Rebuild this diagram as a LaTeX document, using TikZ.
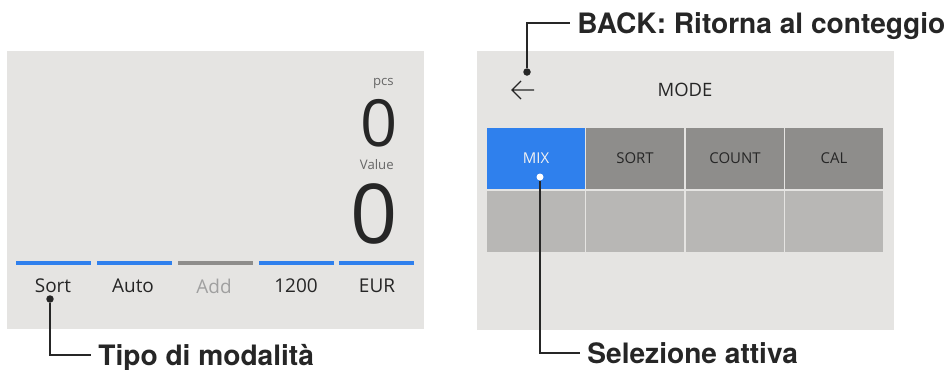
\documentclass[tikz,border=0pt]{standalone}
\usepackage{fontspec}
\setmainfont{Open Sans}
\newfontfamily\callfont{TeX Gyre Heros}
\usetikzlibrary{positioning}
\definecolor{screenbg}{HTML}{E5E4E2}
\definecolor{selblue}{HTML}{2F80ED}
\definecolor{keydark}{HTML}{8E8D8B}
\definecolor{keylight}{HTML}{B8B7B5}
\definecolor{inktext}{HTML}{262626}
\definecolor{dimtext}{HTML}{A0A0A0}
\tikzset{
    screen/.style={
    fill=screenbg,draw=none
    },
    bigzero/.style={
    anchor=east,inner sep=0pt,text=inktext
    },
    unit/.style={
    anchor=east,inner sep=0pt,text=inktext!70,font=\fontsize{7.5}{9}\selectfont
    },
    tab/.style={
    inner sep=0pt,text=inktext,font=\fontsize{10.8}{13}\selectfont
    },
    tabbar/.style={
    line width=2.3pt
    },
    key/.style={
    rectangle,fill=keydark,minimum width=1.96cm,minimum height=1.22cm,inner sep=0pt,
    text=inktext,font=\fontsize{8.5}{10}\selectfont
    },
    pin/.style={
    circle,fill=inktext,inner sep=0pt,minimum size=0.15cm
    },
    wpin/.style={
    circle,fill=white,inner sep=0pt,minimum size=0.14cm
    },
    callout/.style={
    anchor=west,inner xsep=4pt,inner ysep=0pt,text height=11.5pt,text depth=0pt,
    font=\callfont\bfseries\fontsize{16}{18}\selectfont,text=inktext
    },
    leader/.style={
    line width=1.1pt,draw=inktext
    },
}

\begin{document}
\begin{tikzpicture}[x=0.02cm, y=-0.02cm]
   \useasboundingbox (0,0) rectangle (950,369);

   %screens
   \fill[screen] (7,51) rectangle (424,329);
   \fill[screen] (477,51) rectangle (894,330);

   %counter
   \node[unit] (pcs) at (394,83) {pcs};
   \node[bigzero,font=\fontsize{37}{40}\selectfont] (zpcs) at (398,123.5) {0};
   \node[unit] (val) at (394,165) {Value};
   \node[bigzero,font=\fontsize{47}{50}\selectfont] (zval) at (398,213.5) {0};

   %tabs
   \foreach \xa/\xb/\col in {16/91/selblue,97/172/selblue,178/253/keydark,259/334/selblue,339/414/selblue}
     \draw[tabbar,draw=\col] (\xa,263) -- (\xb,263);
   \node[tab] (sort) at (53,286) {Sort};
   \node[tab] (auto) at (133,286) {Auto};
   \node[tab,text=dimtext] (add) at (214,286) {Add};
   \node[tab] (amt) at (296,286) {1200};
   \node[tab] (cur) at (377,286) {EUR};

   %mode menu
   \draw[leader,line width=0.7pt] (521,81) -- (512,90) -- (521,99) (512,90) -- (534,90);
   \node[tab,font=\fontsize{10.5}{13}\selectfont] (mode) at (685,90) {MODE};
   \node[key,fill=selblue,text=white!90!gray] (mix) at (536,158.5) {MIX};
   \node[key] (ksort) at (635,158.5) {SORT};
   \node[key] (kcount) at (735,158.5) {COUNT};
   \node[key] (kcal) at (834,158.5) {CAL};
   \foreach \xc [count=\i] in {536,635,735,834}
     \node[key,fill=keylight] (blank\i) at (\xc,221.5) {};

   %callouts
   \node[pin] (pinsort) at (50,299) {};
   \node[callout] (tipo) at (91,355) {Tipo di modalità};
   \node[pin] (pinback) at (527,72) {};
   \node[callout] (back) at (570,23) {BACK: Ritorna al conteggio};
   \node[wpin] (pinmix) at (540,177) {};
   \node[callout] (sel) at (580,353) {Selezione attiva};

   \draw[leader] (pinsort) |- (tipo.west);
   \draw[leader] (pinback) |- (back.west);
   \draw[leader] (pinmix) |- (sel.west);
\end{tikzpicture}
\end{document}
